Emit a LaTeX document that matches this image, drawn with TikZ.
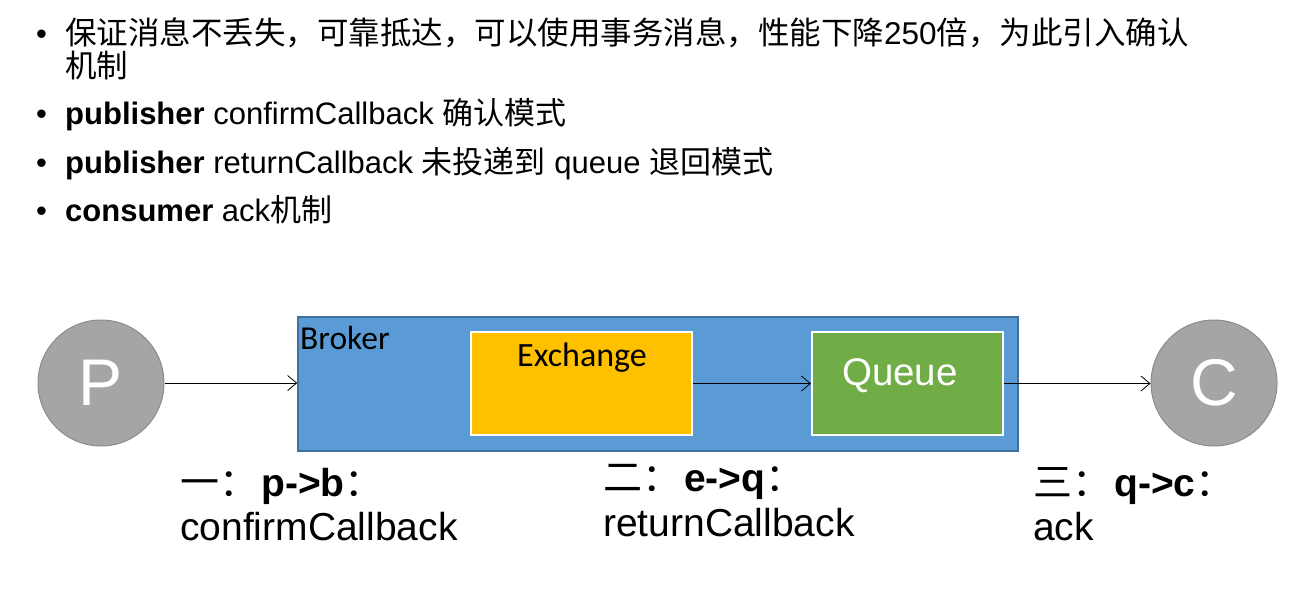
\documentclass[tikz,border=0pt]{standalone}
\usepackage{fontspec}
\setmainfont{Liberation Sans}
\newfontfamily\cjk{Noto Sans CJK SC}
\newfontfamily\calib{Carlito}
\usetikzlibrary{arrows.meta}
\definecolor{circfill}{HTML}{A5A5A5}
\definecolor{circline}{HTML}{8C8C8C}
\definecolor{brokerfill}{HTML}{5B9BD5}
\definecolor{brokerline}{HTML}{41719C}
\definecolor{exfill}{HTML}{FFC000}
\definecolor{qfill}{HTML}{70AD47}
\tikzset{
  bul/.style={anchor=base west, inner sep=0pt, font=\fontsize{31}{33}\selectfont},
  actor/.style={circle, minimum size=126pt, inner sep=0pt, fill=circfill, draw=circline, line width=1pt, text=white, font=\fontsize{66}{66}\selectfont},
  box/.style={rectangle, inner sep=0pt, draw=white, line width=2pt},
  arr/.style={-{Straight Barb[length=9pt,width=15pt]}, line width=0.8pt, black},
  lab/.style={anchor=base west, inner sep=0pt, font=\fontsize{39}{41}\selectfont},
}
\begin{document}
\begin{tikzpicture}[x=1pt,y=-1pt]
\useasboundingbox (0,0) rectangle (1289,595);
% bullets
\node[bul] (b1) at (36,44) {•};
\node[bul, font=\fontsize{31.5}{33}\selectfont] (t1) at (65,44) {\cjk 保证消息不丢失，可靠抵达，可以使用事务消息，性能下降{\rmfamily 250}倍，为此引入确认};
\node[bul, font=\fontsize{31.5}{33}\selectfont] (t1b) at (65,77) {\cjk 机制};
\node[bul] (b2) at (36,124) {•};
\node[bul] (t2) at (65,124) {\textbf{publisher} confirmCallback {\cjk 确认模式}};
\node[bul] (b3) at (36,173) {•};
\node[bul] (t3) at (65,173) {\textbf{publisher} returnCallback {\cjk 未投递到} queue {\cjk 退回模式}};
\node[bul] (b4) at (36,221) {•};
\node[bul] (t4) at (65,221) {\textbf{consumer} ack{\cjk 机制}};
% diagram
\node[rectangle, minimum width=720pt, minimum height=134pt, inner sep=0pt, fill=brokerfill, draw=brokerline, line width=1.5pt] (broker) at (658,384) {};
\node[anchor=base west, inner sep=0pt, font=\calib\fontsize{33.5}{35}\selectfont] (brokerlab) at (300,349) {Broker};
\node[box, fill=exfill, minimum width=221pt, minimum height=103pt] (ex) at (581.5,383.5) {};
\node[anchor=base, inner sep=0pt, font=\calib\fontsize{34}{35}\selectfont] (exlab) at (582,366) {Exchange};
\node[box, fill=qfill, minimum width=191pt, minimum height=103pt] (q) at (907.5,383.5) {};
\node[inner sep=0pt, text=white, font=\fontsize{38.5}{40}\selectfont] (qlab) at (900,376) {Queue};
\node[actor] (P) at (101,383) {P};
\node[actor] (C) at (1214,383) {C};
\draw[arr] (P.east) -- (broker.west |- P.east);
\draw[arr] (ex.east) -- (q.west);
\draw[arr] (q.east) -- (C.west |- q.east);
% labels
\node[lab] (l1a) at (180,496) {{\cjk 一：}\hspace{3pt}\textbf{p->b}{\cjk ：}};
\node[lab] (l1b) at (180,540) {confirmCallback};
\node[lab] (l2a) at (603,491) {{\cjk 二：}\hspace{3pt}\textbf{e->q}{\cjk ：}};
\node[lab] (l2b) at (603,536) {returnCallback};
\node[lab] (l3a) at (1033,496) {{\cjk 三：}\hspace{3pt}\textbf{q->c}{\cjk ：}};
\node[lab] (l3b) at (1033,540) {ack};
\end{tikzpicture}
\end{document}
